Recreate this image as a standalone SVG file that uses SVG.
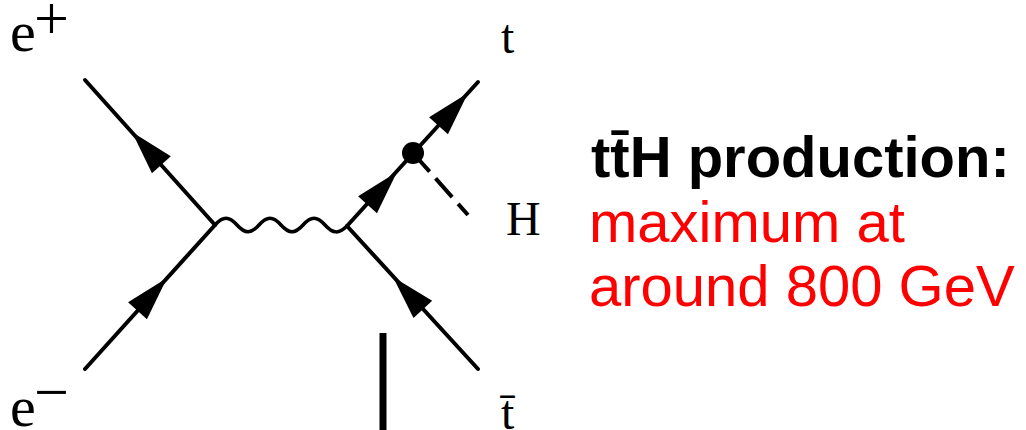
<svg xmlns="http://www.w3.org/2000/svg" xmlns:xlink="http://www.w3.org/1999/xlink" width="1026" height="430" viewBox="0 0 1026 430">
<style>
.fer{stroke:#000;stroke-width:4;fill:none;stroke-linecap:round}
.wave{stroke:#000;stroke-width:3.5;fill:none}
.dash{stroke:#000;stroke-width:4;fill:none;stroke-dasharray:25 9}
.lab{font-family:"Liberation Serif","Times New Roman",serif;fill:#000}
.big{font-family:"Liberation Sans",Arial,sans-serif;font-size:58px}
</style>
<defs>
<polygon id="arr" points="0,0 -44,-12.7 -44,12.7" fill="#000"/>
</defs>
<rect width="1026" height="430" fill="#fff"/>
<g id="connectors">
<line class="fer" x1="85" y1="80" x2="215" y2="225"/>
<line class="fer" x1="85" y1="369" x2="215" y2="225"/>
<path class="wave" d="M215,225 C223,216 229,216 237,225 C245,234 251,234 259,225 C267,216 273,216 281,225 C289,234 295,234 303,225 C311,216 317,216 325,225 C333,234 339,234 347,226"/>
<line class="fer" x1="347" y1="226" x2="478" y2="82"/>
<line class="fer" x1="347" y1="226" x2="478" y2="369"/>
<line class="dash" x1="413" y1="153" x2="468" y2="215"/>
<use xlink:href="#arr" transform="translate(132,132) rotate(-131.9)"/>
<use xlink:href="#arr" transform="translate(167,278) rotate(-47.9)"/>
<use xlink:href="#arr" transform="translate(397,172) rotate(-47.9)"/>
<use xlink:href="#arr" transform="translate(468,93) rotate(-47.9)"/>
<use xlink:href="#arr" transform="translate(393,277) rotate(-132.7)"/>
<line x1="383" y1="333" x2="383" y2="430" stroke="#000" stroke-width="7"/>
</g>
<g id="vertex-dot"><circle cx="413" cy="153" r="11" fill="#000"/></g>
<g id="label-eplus"><text class="lab" x="10" y="51" font-size="58">e</text><text class="lab" x="34" y="39" font-size="62">+</text></g>
<g id="label-eminus"><text class="lab" x="10" y="426" font-size="58">e</text><text class="lab" x="34" y="413" font-size="62">−</text></g>
<g id="label-t"><text class="lab" x="501" y="53" font-size="48">t</text></g>
<g id="label-H"><text class="lab" x="506" y="235" font-size="48">H</text></g>
<g id="label-tbar"><text class="lab" x="501" y="429" font-size="48">t̄</text></g>
<g id="caption">
<text class="big" x="591" y="177" font-weight="bold" fill="#000">tt̄H production:</text>
<text class="big" x="589" y="242" fill="#ff0000">maximum at</text>
<text class="big" x="589" y="306" fill="#ff0000">around 800 GeV</text>
</g>
</svg>
